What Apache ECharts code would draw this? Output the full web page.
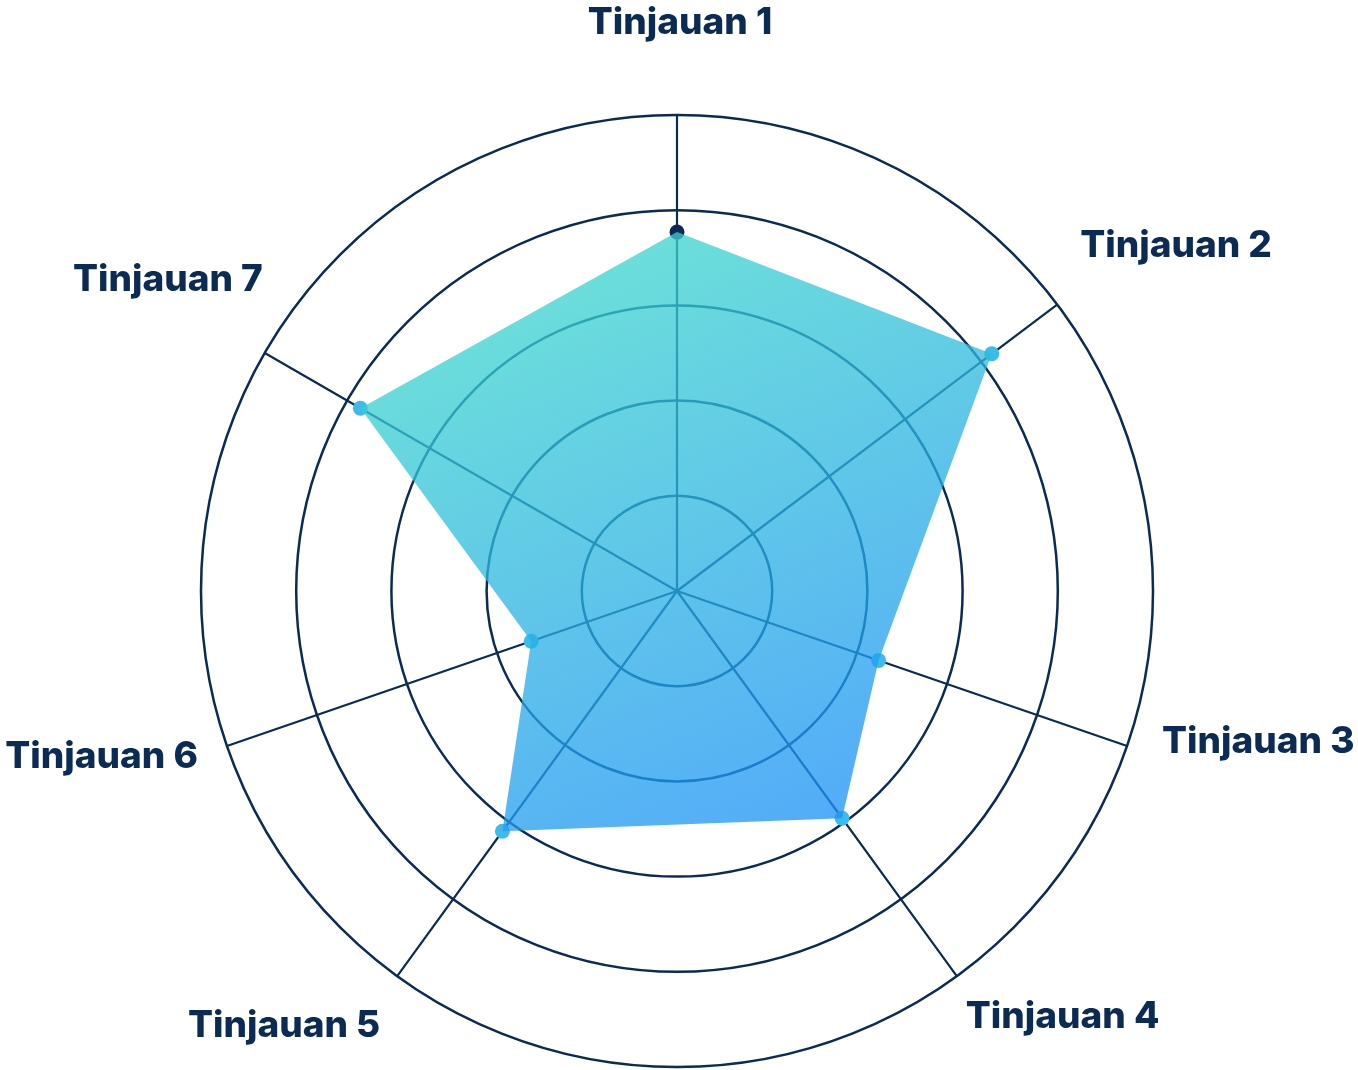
<!DOCTYPE html>
<html><head><meta charset="utf-8">
<script src="https://cdn.jsdelivr.net/npm/echarts@6/dist/echarts.min.js"></script>
<style>html,body{margin:0;padding:0;background:#fff}#c{width:1358px;height:1070px}</style>
</head><body><div id="c"></div>
<script>
// ---- data ----
const categories = ['Tinjauan 1', 'Tinjauan 2', 'Tinjauan 3', 'Tinjauan 4', 'Tinjauan 5', 'Tinjauan 6', 'Tinjauan 7'];
const axisAngles = [0, 53, 109, 144, 216, 251, 300];   // degrees, clockwise from top
const values = [3.77, 4.14, 2.24, 2.95, 3.12, 1.62, 3.84];
const radiusMax = 5;
const radiusInterval = 1;

// ---- style ----
const NAVY = '#0b2b54';
const labelStyle = [
  { align: 'center', offset: [3, -92] },
  { align: 'left', offset: [23, -59] },
  { align: 'left', offset: [35, -4] },
  { align: 'left', offset: [9, 41] },
  { align: 'right', offset: [-17, 50] },
  { align: 'right', offset: [-29, 11] },
  { align: 'right', offset: [-2, -73] }
];

const spokeData = [];
axisAngles.forEach(a => { spokeData.push([radiusMax, a]); spokeData.push([0, a]); });

const areaData = values.map((v, i) => [v, axisAngles[i]]);
areaData.push([values[0], 360]);

const dotData = values.map((v, i) => ({
  value: [v, axisAngles[i]],
  itemStyle: { color: i === 0 ? NAVY : '#3dbbea' }
}));

const labelData = categories.map((c, i) => ({
  value: [radiusMax, axisAngles[i]],
  name: c,
  label: {
    show: true, position: 'inside', verticalAlign: 'middle',
    align: labelStyle[i].align, offset: labelStyle[i].offset
  }
}));

const chart = echarts.init(document.getElementById('c'), null, { renderer: 'canvas' });
chart.setOption({
  animation: false,
  backgroundColor: '#ffffff',
  polar: { center: [677, 591], radius: 476 },
  angleAxis: {
    type: 'value', min: 0, max: 360, startAngle: 90, clockwise: true,
    axisLine: { show: false }, axisTick: { show: false }, axisLabel: { show: false },
    splitLine: { show: false }
  },
  radiusAxis: {
    type: 'value', min: 0, max: radiusMax, interval: radiusInterval,
    axisLine: { show: false }, axisTick: { show: false }, axisLabel: { show: false },
    splitLine: { show: true, lineStyle: { color: NAVY, width: 2.5 } }
  },
  series: [
    {
      type: 'line', coordinateSystem: 'polar', data: spokeData, z: 2,
      symbol: 'none', lineStyle: { color: NAVY, width: 2.2 }, silent: true
    },
    {
      type: 'line', coordinateSystem: 'polar', data: dotData, z: 3,
      symbol: 'circle', symbolSize: 15, showSymbol: true,
      lineStyle: { opacity: 0, width: 0 }, silent: true
    },
    {
      type: 'line', coordinateSystem: 'polar', data: areaData, z: 4,
      symbol: 'none', lineStyle: { width: 0, opacity: 0 },
      areaStyle: {
        opacity: 0.75,
        color: {
          type: 'linear', x: 0.3, y: 0, x2: 0.7, y2: 1,
          colorStops: [{ offset: 0, color: '#3cd9cb' }, { offset: 1, color: '#1a90f6' }]
        }
      },
      silent: true
    },
    {
      type: 'scatter', coordinateSystem: 'polar', data: labelData, z: 5,
      symbolSize: 1, itemStyle: { color: 'rgba(0,0,0,0)', opacity: 1 }, silent: true,
      label: {
        show: true, formatter: '{b}', color: NAVY, opacity: 1,
        fontFamily: 'Inter', fontWeight: 800, fontSize: 37
      }
    }
  ]
});
</script>
</body></html>
